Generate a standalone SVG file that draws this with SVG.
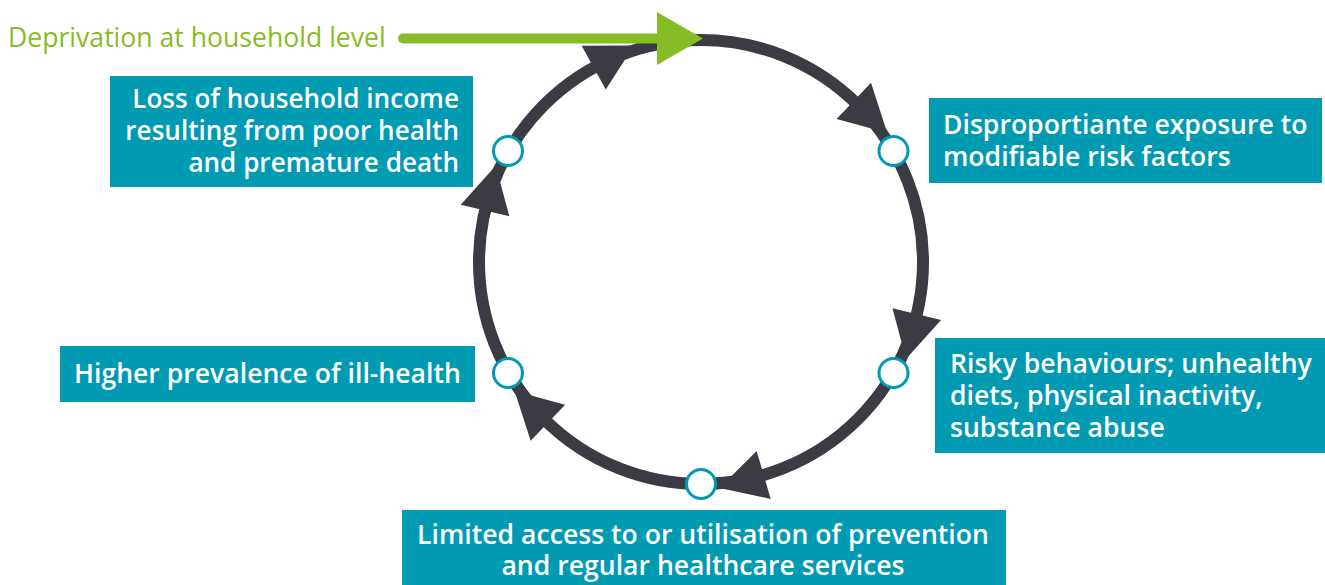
<svg xmlns="http://www.w3.org/2000/svg" xmlns:xlink="http://www.w3.org/1999/xlink" width="1325" height="585" viewBox="0 0 1325 585">
<style>
.box{fill:#009AB3}
.bt{font-family:"Open Sans","Liberation Sans",sans-serif;font-weight:600;font-size:26.6px;fill:#ffffff}
.gt{font-family:"Open Sans","Liberation Sans",sans-serif;font-weight:400;font-size:26.6px;fill:#86BC25}
.ring{fill:none;stroke:#3B3B43;stroke-width:12}
.ah{fill:#3B3B43}
.node{fill:#ffffff;stroke:#009AB3;stroke-width:3}
</style>
<defs>
<path id="ah" d="M948 262 L898 262 L923 308 Z"/>
</defs>
<g id="connectors">
<circle class="ring" cx="701" cy="262" r="222"/>
<use href="#ah" class="ah" transform="rotate(241.1 701 262)"/>
<use href="#ah" class="ah" transform="rotate(-46.5 701 262)"/>
<use href="#ah" class="ah" transform="rotate(13.6 701 262)"/>
<use href="#ah" class="ah" transform="rotate(73.6 701 262)"/>
<use href="#ah" class="ah" transform="rotate(133.6 701 262)"/>
<use href="#ah" class="ah" transform="rotate(193.4 701 262)"/>
<line x1="403" y1="38.5" x2="660" y2="38.5" stroke="#86BC25" stroke-width="10" stroke-linecap="round"/>
<polygon points="657,12 657,65 703,38.5" fill="#86BC25"/>
</g>
<g id="deprivation">
<text class="gt" x="8" y="47">Deprivation at household level</text>
</g>
<g id="loss">
<rect class="box" x="110" y="76" width="363" height="111"/>
<text class="bt" style="font-size:26.1px" text-anchor="end" x="459"><tspan x="459" y="107.5">Loss of household income</tspan><tspan x="459" y="139.5">resulting from poor health</tspan><tspan x="459" y="171.5">and premature death</tspan></text>
<circle class="node" cx="508" cy="151" r="14.5"/>
</g>
<g id="exposure">
<rect class="box" x="929" y="98" width="393" height="85"/>
<text class="bt" x="943"><tspan x="943" y="133.5">Disproportiante exposure to</tspan><tspan x="943" y="166">modifiable risk factors</tspan></text>
<circle class="node" cx="893.5" cy="151" r="14.5"/>
</g>
<g id="risky">
<rect class="box" x="935" y="338" width="390" height="115"/>
<text class="bt" x="950"><tspan x="950" y="372.5">Risky behaviours; unhealthy</tspan><tspan x="950" y="404.5">diets, physical inactivity,</tspan><tspan x="950" y="436.5">substance abuse</tspan></text>
<circle class="node" cx="893.5" cy="373" r="14.5"/>
</g>
<g id="limited">
<rect class="box" x="402" y="510" width="604" height="75"/>
<text class="bt" text-anchor="middle" x="703"><tspan x="703" y="543.5">Limited access to or utilisation of prevention</tspan><tspan x="703" y="574.5">and regular healthcare services</tspan></text>
<circle class="node" cx="701" cy="484" r="14.5"/>
</g>
<g id="higher">
<rect class="box" x="60" y="346" width="415" height="56"/>
<text class="bt" x="74" y="383">Higher prevalence of ill-health</text>
<circle class="node" cx="508" cy="373" r="14.5"/>
</g>
</svg>
